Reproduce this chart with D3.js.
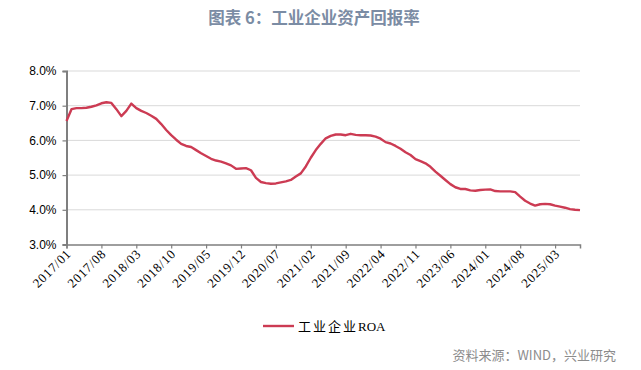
<!DOCTYPE html>
<html>
<head>
<meta charset="utf-8">
<script src="https://cdn.jsdelivr.net/npm/d3@7"></script>
<style>
  html, body { margin: 0; padding: 0; background: #fff; }
  svg { display: block; }
</style>
</head>
<body>
<div id="chart"></div>
<script>
// monthly ROA, 2017/01 .. 2025/08 (%)
const roaValues = [
  6.56, 6.90, 6.93, 6.93, 6.94, 6.97, 7.01, 7.07, 7.10, 7.08,
  6.90, 6.70, 6.85, 7.06, 6.93, 6.85, 6.79, 6.71, 6.62, 6.47,
  6.30, 6.15, 6.02, 5.90, 5.84, 5.81, 5.72, 5.63, 5.55, 5.47,
  5.42, 5.39, 5.34, 5.28, 5.18, 5.19, 5.20, 5.14, 4.92, 4.80,
  4.77, 4.75, 4.76, 4.79, 4.82, 4.86, 4.96, 5.05, 5.25, 5.50,
  5.72, 5.90, 6.06, 6.13, 6.17, 6.17, 6.15, 6.19, 6.16, 6.15,
  6.15, 6.14, 6.11, 6.05, 5.95, 5.91, 5.84, 5.76, 5.66, 5.58,
  5.46, 5.40, 5.34, 5.24, 5.10, 4.98, 4.86, 4.74, 4.65, 4.60,
  4.60, 4.56, 4.55, 4.57, 4.58, 4.59, 4.54, 4.53, 4.53, 4.53,
  4.51, 4.38, 4.26, 4.18, 4.12, 4.16, 4.17, 4.16, 4.12, 4.09,
  4.06, 4.02, 4.00, 3.99
];
const months = roaValues.map((v, i) => {
  const y = 2017 + Math.floor(i / 12);
  const m = (i % 12) + 1;
  return `${y}/${String(m).padStart(2, '0')}`;
});
const tickLabels = months.filter((d, i) => i % 7 === 0);
const yTicks = [3, 4, 5, 6, 7, 8];
const seriesNameCn = '工业企业';
const seriesNameEn = 'ROA';
const titleText = '图表 6：工业企业资产回报率';
const sourceText = '资料来源：WIND，兴业研究';

const width = 641, height = 370;
const margins = { left: 66.5, right: 61, top: 71, bottom: 125.5 };
const boundWidth = width - margins.left - margins.right;
const boundHeight = height - margins.top - margins.bottom;

const svg = d3.select('#chart').append('svg')
  .attr('width', width).attr('height', height);

svg.append('text')
  .attr('x', 314).attr('y', 24)
  .attr('text-anchor', 'middle')
  .attr('font-family', '"Noto Sans CJK SC", sans-serif')
  .attr('font-size', 16.5).attr('font-weight', 'bold')
  .attr('fill', '#7b8ca4')
  .text(titleText);

const bound = svg.append('g')
  .attr('transform', `translate(${margins.left},${margins.top})`);

const xScale = d3.scalePoint().domain(months).range([0, boundWidth]);
const yScale = d3.scaleLinear().domain([3, 8]).range([boundHeight, 0]);

// gridlines
bound.append('g').selectAll('line').data(yTicks.filter(d => d > 3)).join('line')
  .attr('x1', 0).attr('x2', boundWidth)
  .attr('y1', d => yScale(d)).attr('y2', d => yScale(d))
  .attr('stroke', '#d9d9d9').attr('stroke-width', 1);

// y axis
const yAxis = bound.append('g')
  .call(d3.axisLeft(yScale).tickValues(yTicks).tickFormat(d => d.toFixed(1) + '%').tickSizeOuter(0).tickSize(4));
yAxis.select('.domain').attr('stroke', '#7f7f7f').attr('stroke-width', 2);
yAxis.selectAll('.tick line').attr('stroke', '#7f7f7f').attr('stroke-width', 1.2);
yAxis.selectAll('.tick text')
  .attr('x', -10)
  .attr('font-family', '"Liberation Sans", Arial, sans-serif')
  .attr('font-size', 12).attr('fill', '#000');

// x axis
const xAxis = bound.append('g')
  .attr('transform', `translate(0,${boundHeight})`)
  .call(d3.axisBottom(xScale).tickValues(tickLabels).tickSizeOuter(0).tickSize(4));
xAxis.select('.domain').attr('stroke', '#7f7f7f').attr('stroke-width', 1.5);
xAxis.selectAll('.tick line').attr('stroke', '#7f7f7f').attr('stroke-width', 1.2);
xAxis.selectAll('.tick text')
  .attr('y', 0).attr('dy', 0)
  .attr('text-anchor', 'end')
  .attr('transform', 'translate(5,10) rotate(-45)')
  .attr('font-family', '"Liberation Serif", "Times New Roman", serif')
  .attr('font-size', 13).attr('letter-spacing', 0.8).attr('fill', '#000');

// line
const line = d3.line()
  .x((d, i) => xScale(months[i]))
  .y(d => yScale(d));

bound.append('path')
  .datum(roaValues)
  .attr('d', line)
  .attr('fill', 'none')
  .attr('stroke', '#cc3b53')
  .attr('stroke-width', 2.4)
  .attr('stroke-linejoin', 'round');

// legend
const legend = svg.append('g').attr('transform', 'translate(263,326)');
legend.append('line')
  .attr('x1', 0).attr('x2', 31).attr('y1', 0).attr('y2', 0)
  .attr('stroke', '#cc3b53').attr('stroke-width', 2.4);
const legendText = legend.append('text')
  .attr('x', 35).attr('y', 4.5)
  .attr('font-size', 13).attr('fill', '#000');
legendText.append('tspan')
  .attr('font-family', '"Noto Sans CJK SC", sans-serif')
  .attr('letter-spacing', 2)
  .text(seriesNameCn);
legendText.append('tspan')
  .attr('font-family', '"Liberation Serif", serif')
  .text(seriesNameEn);

// source
svg.append('text')
  .attr('x', 616).attr('y', 360)
  .attr('text-anchor', 'end')
  .attr('font-family', '"Noto Sans CJK SC", sans-serif')
  .attr('font-size', 13).attr('fill', '#8c8c8c')
  .text(sourceText);
</script>
</body>
</html>
